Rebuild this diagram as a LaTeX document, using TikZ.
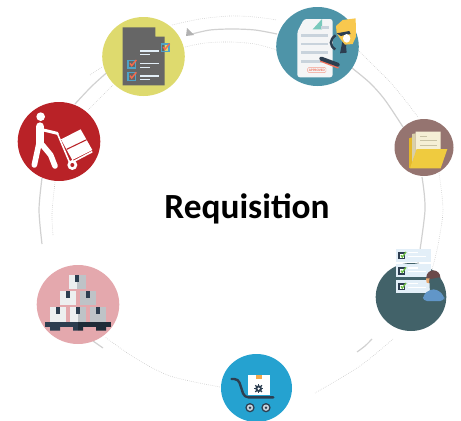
\documentclass[tikz,border=0pt]{standalone}
\usepackage{fontspec}
\setmainfont{Carlito}
\begin{document}
\begin{tikzpicture}[x=0.75pt,y=-0.75pt,
  ringline/.style={draw=black!18,line width=0.9pt},
  dotline/.style={draw=black!22,line width=0.45pt,densely dotted},
  zone/.style={shift={#1},x=0.25pt,y=-0.25pt}]
\useasboundingbox (0,0) rectangle (461,421);
\definecolor{cYellow}{HTML}{DEDA6E}\definecolor{cTeal}{HTML}{4E94A8}
\definecolor{cRed}{HTML}{B92227}\definecolor{cPink}{HTML}{E4A8AD}
\definecolor{cBrown}{HTML}{957470}\definecolor{cSlate}{HTML}{426269}
\definecolor{cCyan}{HTML}{25A2D0}\definecolor{cDark}{HTML}{2D3E50}
\definecolor{cDarker}{HTML}{1F2C38}\definecolor{cLine}{HTML}{C9D3DC}
\definecolor{cGold}{HTML}{F8C84E}\definecolor{cLight}{HTML}{EDEFF0}
\definecolor{cGrey}{HTML}{BEC3C7}\definecolor{cList}{HTML}{E3EFF8}
\definecolor{cFold}{HTML}{79C9BC}\definecolor{cCheck}{HTML}{F26B4E}
\definecolor{cBox}{HTML}{4FA3C7}\definecolor{cHair}{HTML}{6B4A4A}
\definecolor{cShirt}{HTML}{6196C8}\definecolor{cSkin}{HTML}{E8A870}
\definecolor{cPaper}{HTML}{F5EFD5}\definecolor{cFolder}{HTML}{EFCB3F}
\definecolor{cFolderB}{HTML}{E5B92A}\definecolor{cSheet}{HTML}{D9D0A8}
\definecolor{cGrid}{HTML}{C8C2A4}\definecolor{cTab}{HTML}{F5A94A}
\definecolor{cStamp}{HTML}{F0705A}\definecolor{cGreen}{HTML}{6DBE45}
% solid ring
\draw[ringline] plot[smooth] coordinates {(277,34) (255,30) (232,29) (210,30) (192,34)};
\draw[ringline] plot[smooth] coordinates {(112,68) (92,86) (75,104)};
\draw[ringline] plot[smooth] coordinates {(42,178) (39,210) (42,244)};
\draw[ringline] (93,341) -- (103,348);
\draw[ringline] plot[smooth] coordinates {(352,68) (370,83) (385,100) (403,127)};
\draw[ringline] plot[smooth] coordinates {(422,177) (425,210) (418,263)};
\draw[ringline] plot[smooth] coordinates {(372,339) (365,346) (357,352)};
\fill[black!30] (187,28) -- (194,35) -- (186,36) -- cycle;
% dotted ring
\draw[dotline] plot[smooth] coordinates {(172,25) (200,19) (230,16) (255,17) (277,20)};
\draw[dotline] plot[smooth] coordinates {(185,47) (205,43) (230,42) (255,44) (277,50)};
\draw[dotline] plot[smooth] coordinates {(358,50) (368,60) (390,82) (405,100) (418,117)};
\draw[dotline] plot[smooth] coordinates {(439,173) (443,210) (438,245) (432,270)};
\draw[dotline] plot[smooth] coordinates {(393,339) (360,366) (315,393)};
\draw[dotline] plot[smooth] coordinates {(220,387) (170,376) (135,358) (105,337)};
\draw[dotline] plot[smooth] coordinates {(53,235) (52,213) (55,182)};
\draw[dotline] plot[smooth] coordinates {(90,75) (102,67)};
\draw[dotline] plot[smooth] coordinates {(113,85) (100,98) (88,110)};
% discs
\fill[cYellow] (143.5,56.5) ellipse [x radius=41.3,y radius=39.5];
\fill[cTeal] (317.5,46.5) ellipse [x radius=41.3,y radius=39.5];
\fill[cRed] (59,141.5) ellipse [x radius=41.3,y radius=39.5];
\fill[cPink] (78,304.5) ellipse [x radius=41.3,y radius=39.5];
\fill[cBrown] (424,147.5) ellipse [x radius=29.5,y radius=28.5];
\fill[cSlate] (411,297) ellipse [x radius=35.3,y radius=34];
\fill[cCyan] (256.5,388) ellipse [x radius=35.5,y radius=34];
\node[font=\bfseries\fontsize{26.5}{30}\selectfont,text=black] (title) at (247,209) {Requisition};
% checklist document
\begin{scope}[zone={(90,0)}]
\fill[black!60] (98,82) -- (196,82) -- (196,110) -- (224,110) -- (224,256) -- (98,256) -- cycle;
\foreach \a/\b in {214/132,114/181,114/218}{
  \draw[draw=cBox,line width=0.8pt] (\a,\b) rectangle ++(23,23);
  \draw[draw=cCheck,line width=1.1pt] (\a+6,\b+9) -- (\a+11,\b+16) -- (\a+25,\b-1);
}
\foreach \y in {153,191,228}{
  \draw[draw=cList,line width=1.2pt] (150,\y) -- (207,\y);
  \draw[draw=cList,line width=1.2pt] (150,\y+11) -- (180,\y+11);
}
\end{scope}
% approval document
\begin{scope}[zone={(90,0)}]
\fill[cLight!60!white,rounded corners=2pt] (642,57) -- (728,57) -- (728,232) -- (622,232) -- (622,95) -- cycle;
\fill[cFold] (668,88) -- (696,57) -- (696,88) -- cycle;
\draw[cLine,line width=2pt] (692,82) -- (718,82);
\foreach \y/\e in {106/714,132/714,157/714,184/695}
  \draw[cLine,line width=2pt] (634,\y) -- (\e,\y);
\draw[cStamp!70!white,line width=0.35pt,rounded corners=1pt] (653,202) rectangle (708,218);
\node[inner sep=0pt,text=cStamp,font=\fontsize{2.6}{3}\selectfont\bfseries] (stampword) at (680.5,210) {APPROVED};
\draw[cStamp,line width=1.3pt,line cap=round] (692,183) -- (744,203);
\draw[cDark,line width=3pt,line cap=round] (694,176) -- (743,194);
\end{scope}
\begin{scope}[zone={(320,10)}]
\draw[cDark,line width=1.8pt] (47,76) .. controls (28,88) and (28,108) .. (46,118);
\fill[cDark] (70,90) -- (84,92) -- (78,108) -- (80,128) -- (60,130) -- (66,100) -- cycle;
\fill[cGold] (48,48) -- (68,30) -- (107,25) -- (108,80) -- (98,102) -- (75,104) -- (62,88) -- (50,70) -- cycle;
\fill[cDark] (50,70) -- (88,63) -- (92,72) -- (62,78) -- cycle;
\fill[white] (80,85) ellipse [x radius=11,y radius=13];
\end{scope}
% person with trolley
\begin{scope}[zone={(15,100)}]
\fill[white] (77,50) circle [radius=13];
\draw[white,line width=6.5pt,line cap=round] (75,80) -- (75,128);
\draw[white,line width=2.2pt,line cap=round] (85,90) -- (127,100);
\draw[white,line width=4.2pt,line cap=round,line join=round] (72,130) -- (58,195);
\draw[white,line width=4.2pt,line cap=round,line join=round] (82,135) -- (107,165) -- (120,198);
\draw[white,line width=1.2pt,line join=round] (127,100) -- (165,190) -- (232,155);
\draw[white,line width=1.2pt] (165,190) -- (172,195);
\fill[white] (138,118) -- (197,88) -- (232,150) -- (172,180) -- cycle;
\draw[cRed,line width=0.8pt] (155,148) -- (215,119);
\fill[white] (172,195) circle [radius=15];
\fill[cRed] (172,195) circle [radius=6];
\end{scope}
% pallet of boxes
\newcommand{\crate}[4]{%
  \fill[#3] (#1,#2) rectangle ++(50,43);
  \fill[#4] (#1+25,#2) rectangle ++(25,43);
  \fill[cDark] (#1+18,#2) rectangle ++(12,21);
}
\begin{scope}[zone={(0,90)}]
\crate{207}{555}{cLight}{cGrey}
\crate{179}{603}{cLight}{cLight}
\crate{239}{603}{cGrey}{cGrey}
\crate{149}{652}{cLight}{cLight}
\crate{209}{652}{cLight}{cGrey}
\crate{269}{652}{cGrey}{cGrey}
\fill[cDark] (135,696) rectangle (234,711);
\fill[cDarker] (234,696) rectangle (333,711);
\fill[cDark] (150,711) rectangle (180,722) (219,711) rectangle (234,722);
\fill[cDarker] (234,711) rectangle (249,722) (288,711) rectangle (318,722);
\end{scope}
% folder
\begin{scope}[zone={(350,100)}]
\fill[cFolderB] (177,115) -- (187,112) -- (187,200) -- (177,205) -- cycle;
\fill[cSheet] (186,102) -- (197,100) -- (197,160) -- (186,190) -- cycle;
\fill[cPaper] (197,95) -- (272,95) -- (272,150) -- (197,170) -- cycle;
\draw[cGrid,line width=0.6pt] (210,108) -- (232,108) (210,122) -- (260,122) (210,135) -- (260,135);
\fill[cFolder] (200,147) -- (292,147) -- (272,205) -- (180,205) -- cycle;
\end{scope}
% person with lists
\begin{scope}[zone={(390,245)}]
\foreach \y in {12,58,105}{
  \fill[cList] (17,\y) rectangle (123,\y+38);
  \fill[cDark] (25,\y+9) rectangle ++(21,22);
  \fill[white] (30,\y+14) rectangle ++(11,12);
  \draw[cGreen,line width=1pt] (33,\y+19) -- (37,\y+24) -- (48,\y+9);
  \draw[white,line width=0.8pt] (55,\y+11) -- (85,\y+11) (55,\y+22) -- (108,\y+22);
}
\fill[cHair] (130,97) circle [radius=21];
\fill[cSkin] (108,100) -- (119,100) -- (118,115) -- (110,113) -- cycle;
\fill[cSlate] (118,103) -- (148,97) -- (162,120) -- (165,145) -- (120,145) -- cycle;
\fill[cShirt,rounded corners=3pt] (99,168) -- (99,150) -- (120,133) -- (142,133) -- (163,153) -- (163,168) -- cycle;
\end{scope}
% cart
\begin{scope}[zone={(225,365)}]
\fill[white] (70,30) rectangle (135,90);
\fill[cTab] (92,30) rectangle (110,41);
\foreach \a in {0,45,...,315}
  \draw[cDark,line width=0.9pt] (101,71) -- ++(\a:14);
\fill[cDark] (101,71) circle [radius=10];
\fill[white] (101,71) circle [radius=4];
\draw[cDark,line width=1.8pt,line cap=round,line join=round,rounded corners=3pt]
  (20,42) -- (40,42) -- (58,97) -- (145,97);
\foreach \x in {75,123}{
  \fill[cDark] (\x,128) circle [radius=14];
  \fill[cLine] (\x,128) circle [radius=9.5];
  \fill[cDark] (\x,128) circle [radius=4];
}
\end{scope}
\end{tikzpicture}
\end{document}
